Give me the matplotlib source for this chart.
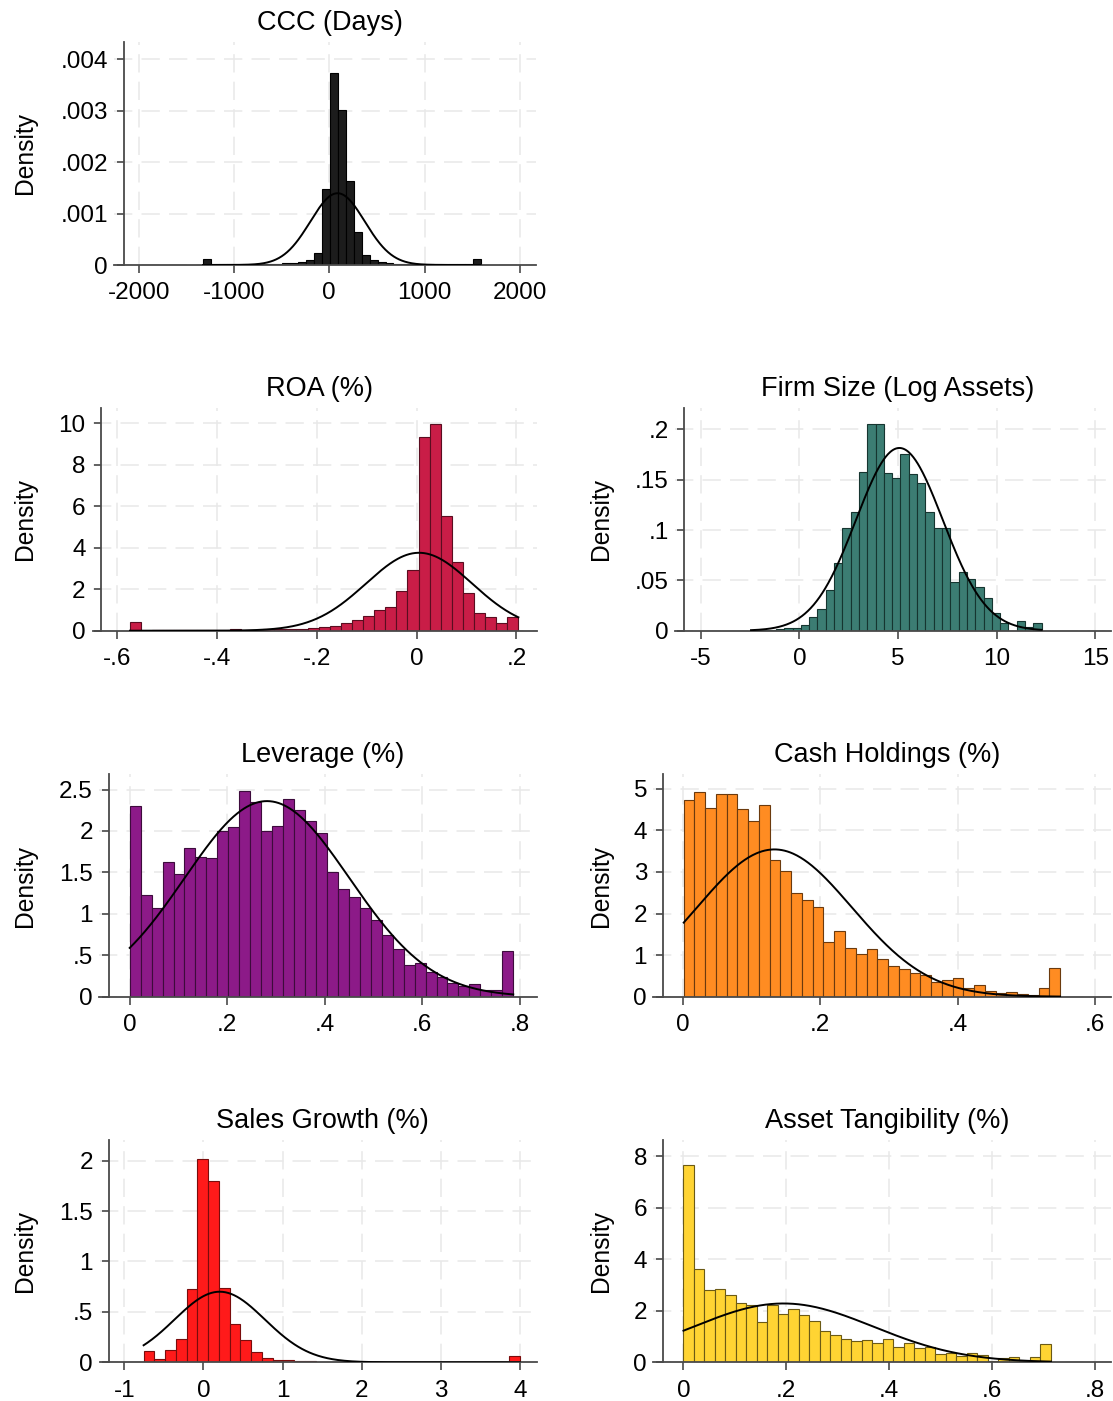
import numpy as np
import matplotlib.pyplot as plt

plt.rcParams['font.family'] = ['Liberation Sans', 'DejaVu Sans']

# ---- data: 35-bin density histograms + fitted normal (mean, sd) ----
ccc_range = (-1325, 1590)
ccc_density = [0.11e-3, 0.01e-3, 0.01e-3, 0.01e-3, 0.01e-3, 0.01e-3, 0.01e-3,
               0.01e-3, 0.015e-3, 0.02e-3, 0.03e-3, 0.04e-3, 0.065e-3,
               0.09e-3, 0.24e-3, 1.48e-3, 3.735e-3, 3.01e-3, 1.63e-3, 0.645e-3,
               0.19e-3, 0.09e-3, 0.06e-3, 0.03e-3, 0.02e-3, 0.015e-3, 0.01e-3,
               0.01e-3, 0.01e-3, 0.01e-3, 0.01e-3, 0.01e-3, 0.01e-3, 0.01e-3, 0.12e-3]
ccc_normal = (87, 285.8)

roa_range = (-0.5746, 0.2038)
roa_density = [0.43, 0.0, 0.02, 0.05, 0.02, 0.05, 0.02, 0.04, 0.04, 0.06, 0.03,
               0.03, 0.06, 0.1, 0.08, 0.08, 0.11, 0.19, 0.22, 0.35, 0.51, 0.71,
               1.0, 1.16, 1.91, 2.93, 9.36, 9.97, 5.53, 3.33, 1.8, 0.87, 0.64,
               0.35, 0.64]
roa_normal = (0.0047, 0.1061)

size_range = (-2.45, 12.28)
size_density = [0.0005, 0.0005, 0.001, 0.0015, 0.0026, 0.0026, 0.0056, 0.014,
                0.0215, 0.040, 0.067, 0.1017, 0.1175, 0.158, 0.205, 0.205,
                0.157, 0.152, 0.1755, 0.1556, 0.147, 0.1175, 0.1017, 0.1017,
                0.048, 0.058, 0.051, 0.043, 0.0325, 0.018, 0.0073, 0.0, 0.010,
                0.004, 0.0073]
size_normal = (5.07, 2.198)

lev_range = (0.0, 0.7868)
lev_density = [2.3, 1.23, 1.07, 1.62, 1.48, 1.8, 1.68, 1.67, 2.0, 2.05, 2.48,
               2.35, 2.0, 2.06, 2.38, 2.25, 2.12, 1.98, 1.5, 1.3, 1.2, 1.07,
               0.92, 0.75, 0.58, 0.38, 0.41, 0.3, 0.24, 0.17, 0.13, 0.15, 0.08,
               0.08, 0.55]
lev_normal = (0.2816, 0.169)

cash_range = (0.0015, 0.549)
cash_density = [4.72, 4.93, 4.53, 4.88, 4.88, 4.52, 4.22, 4.6, 3.28, 3.02, 2.5,
                2.32, 2.15, 1.32, 1.58, 1.16, 1.03, 1.15, 0.9, 0.73, 0.66, 0.58,
                0.52, 0.36, 0.4, 0.44, 0.2, 0.27, 0.13, 0.1, 0.12, 0.07, 0.03,
                0.22, 0.69]
cash_normal = (0.1335, 0.1126)

sales_range = (-0.756, 3.995)
sales_density = [0.111, 0.033, 0.121, 0.229, 0.725, 2.016, 1.797, 0.739, 0.382,
                 0.219, 0.105, 0.039, 0.023, 0.023, 0.013, 0.01, 0.006, 0.005,
                 0.004, 0.003, 0.002, 0.002, 0.002, 0.001, 0.001, 0.001, 0.001,
                 0.001, 0.001, 0.001, 0.001, 0.001, 0.001, 0.001, 0.065]
sales_normal = (0.205, 0.570)

tang_range = (0.0, 0.7148)
tang_density = [7.65, 3.64, 2.8, 2.83, 2.62, 2.31, 2.21, 1.56, 2.23, 1.87, 2.08,
                1.85, 1.61, 1.2, 1.06, 0.9, 0.81, 0.88, 0.75, 0.9, 0.61, 0.75,
                0.54, 0.58, 0.32, 0.35, 0.25, 0.35, 0.3, 0.065, 0.155, 0.19,
                0.065, 0.19, 0.71]
tang_normal = (0.1946, 0.1747)

# tick values and labels
ccc_xticks = [-2000, -1000, 0, 1000, 2000]
ccc_xlabels = ['-2000', '-1000', '0', '1000', '2000']
ccc_yticks = [0, 0.001, 0.002, 0.003, 0.004]
ccc_ylabels = ['0', '.001', '.002', '.003', '.004']

roa_xticks = [-0.6, -0.4, -0.2, 0, 0.2]
roa_xlabels = ['-.6', '-.4', '-.2', '0', '.2']
roa_yticks = [0, 2, 4, 6, 8, 10]
roa_ylabels = ['0', '2', '4', '6', '8', '10']

size_xticks = [-5, 0, 5, 10, 15]
size_xlabels = ['-5', '0', '5', '10', '15']
size_yticks = [0, 0.05, 0.1, 0.15, 0.2]
size_ylabels = ['0', '.05', '.1', '.15', '.2']

lev_xticks = [0, 0.2, 0.4, 0.6, 0.8]
lev_xlabels = ['0', '.2', '.4', '.6', '.8']
lev_yticks = [0, 0.5, 1, 1.5, 2, 2.5]
lev_ylabels = ['0', '.5', '1', '1.5', '2', '2.5']

cash_xticks = [0, 0.2, 0.4, 0.6]
cash_xlabels = ['0', '.2', '.4', '.6']
cash_yticks = [0, 1, 2, 3, 4, 5]
cash_ylabels = ['0', '1', '2', '3', '4', '5']

sales_xticks = [-1, 0, 1, 2, 3, 4]
sales_xlabels = ['-1', '0', '1', '2', '3', '4']
sales_yticks = [0, 0.5, 1, 1.5, 2]
sales_ylabels = ['0', '.5', '1', '1.5', '2']

tang_xticks = [0, 0.2, 0.4, 0.6, 0.8]
tang_xlabels = ['0', '.2', '.4', '.6', '.8']
tang_yticks = [0, 2, 4, 6, 8]
tang_ylabels = ['0', '2', '4', '6', '8']

W, H = 1113, 1401
fig = plt.figure(figsize=(W / 100, H / 100), dpi=100)


def panel(box, spine_px, xlim, ytop, title, rng, dens, normal, fill, edge,
          xticks, xlabels, yticks, ylabels, ylabel_x):
    left, right, top, bottom = box
    ax = fig.add_axes([left / W, 1 - bottom / H, (right - left) / W, (bottom - top) / H])
    frac = (spine_px - left) / (right - left)

    edges = np.linspace(rng[0], rng[1], len(dens) + 1)
    ax.bar(edges[:-1], dens, width=np.diff(edges), align='edge', color=fill,
           edgecolor=edge, linewidth=0.8, zorder=2)

    mu, sd = normal
    xs = np.linspace(rng[0], rng[1], 400)
    ys = np.exp(-0.5 * ((xs - mu) / sd) ** 2) / (sd * np.sqrt(2 * np.pi))
    ax.plot(xs, ys, color='black', linewidth=1.4, zorder=3)

    ax.set_xlim(xlim)
    ax.set_ylim(0, ytop)
    ax.set_xticks(xticks)
    ax.set_xticklabels(xlabels)
    ax.set_yticks(yticks)
    ax.set_yticklabels(ylabels)

    for s in ['top', 'right']:
        ax.spines[s].set_visible(False)
    ax.spines['left'].set_position(('axes', frac))
    for s in ['left', 'bottom']:
        ax.spines[s].set_color('#4a4a4a')
        ax.spines[s].set_linewidth(1.3)
    ax.tick_params(length=5.4, width=1.2, color='#4a4a4a', pad=6,
                   labelsize=17.5, labelcolor='black')
    ax.tick_params(axis='x', pad=7)

    ax.set_axisbelow(True)
    ax.grid(True, color='#e8e8e8', linestyle=(0, (12, 6)), linewidth=1.1, zorder=0)

    h_px = bottom - top
    ax.text((frac + 1) / 2, 1 + 19 / h_px, title, transform=ax.transAxes,
            ha='center', va='center', fontsize=19.5)
    fig.text(ylabel_x / W, 1 - (top + bottom) / 2 / H, 'Density', rotation=90,
             ha='center', va='center', fontsize=17.7)
    return ax


panel((114, 536, 41.7, 265), 123.6, (-2261, 2171), 0.004344, 'CCC (Days)',
      ccc_range, ccc_density, ccc_normal, '#1c1c1c', '#000000',
      ccc_xticks, ccc_xlabels, ccc_yticks, ccc_ylabels, 25)

panel((92.5, 536.6, 407.7, 630.7), 101.4, (-0.6497, 0.2403), 10.76, 'ROA (%)',
      roa_range, roa_density, roa_normal, '#c91d47', '#5a0d20',
      roa_xticks, roa_xlabels, roa_yticks, roa_ylabels, 25)

panel((675, 1110.7, 408, 630.7), 684.4, (-6.302, 15.78), 0.2212, 'Firm Size (Log Assets)',
      size_range, size_density, size_normal, '#3c7d73', '#163530',
      size_xticks, size_xlabels, size_yticks, size_ylabels, 601)

panel((98.6, 536.6, 774.3, 996.7), 108.6, (-0.0638, 0.8347), 2.684, 'Leverage (%)',
      lev_range, lev_density, lev_normal, '#8c1a88', '#3d0b3c',
      lev_xticks, lev_xlabels, lev_yticks, lev_ylabels, 25)

panel((653.2, 1110.7, 774.3, 996.7), 662.9, (-0.0429, 0.6227), 5.35, 'Cash Holdings (%)',
      cash_range, cash_density, cash_normal, '#ff8c22', '#6b3a0e',
      cash_xticks, cash_xlabels, cash_yticks, cash_ylabels, 601)

panel((99.6, 536.6, 1140, 1362.3), 108.6, (-1.312, 4.207), 2.204, 'Sales Growth (%)',
      sales_range, sales_density, sales_normal, '#ff1a1a', '#7a0c0c',
      sales_xticks, sales_xlabels, sales_yticks, sales_ylabels, 25)

panel((653.2, 1110.7, 1140, 1362.3), 662.9, (-0.0589, 0.8310), 8.63, 'Asset Tangibility (%)',
      tang_range, tang_density, tang_normal, '#ffd433', '#6b5a15',
      tang_xticks, tang_xlabels, tang_yticks, tang_ylabels, 601)

fig.savefig('out.png', dpi=100, facecolor='white')
